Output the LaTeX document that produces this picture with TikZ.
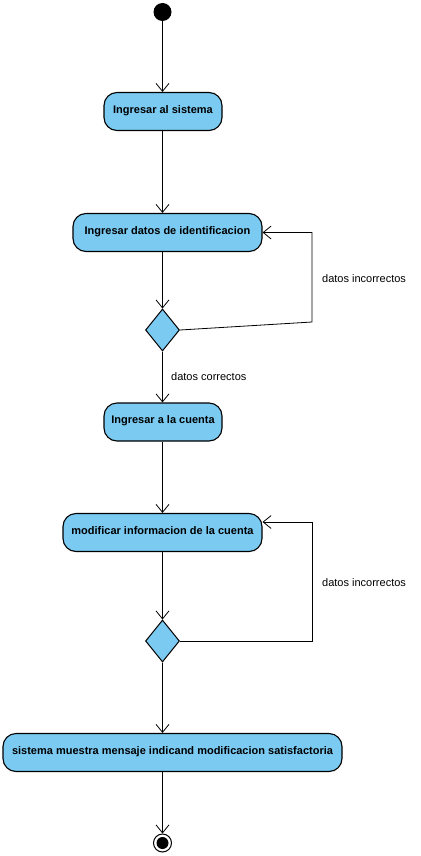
\documentclass[tikz,border=0pt]{standalone}
\usepackage{fontspec}
\setmainfont{Liberation Sans}
\usetikzlibrary{arrows.meta,shapes.geometric}
\definecolor{actfill}{RGB}{122,202,242}
\begin{document}
\begin{tikzpicture}[x=1pt,y=-1pt,
  act/.style={draw=black, line width=1.1pt, fill=actfill, rounded corners=13pt,
    font=\bfseries\fontsize{11}{13}\selectfont, inner sep=0pt, minimum height=38pt},
  dec/.style={draw=black, line width=1pt, fill=actfill, diamond, minimum width=34pt,
    minimum height=42pt, inner sep=0pt},
  flow/.style={draw=black, line width=0.8pt, -{Straight Barb[length=8pt,width=13pt,line width=0.8pt]}},
  lbl/.style={font=\fontsize{11}{13}\selectfont, inner sep=0pt, anchor=west}]
\useasboundingbox (0,0) rectangle (420,856);
\fill[white] (0,0) rectangle (420,856);

\node[circle, fill=black, minimum size=18pt, inner sep=0pt] (init) at (162.5,12) {};
\node[act, minimum width=118pt] (a1) at (163,111.5) {\raisebox{4pt}{Ingresar al sistema}};
\node[act, minimum width=189pt] (a2) at (167.5,232.5) {\raisebox{4pt}{Ingresar datos de identificacion}};
\node[dec] (d1) at (162.5,330) {};
\node[act, minimum width=118pt] (a3) at (163,422) {\raisebox{4pt}{Ingresar a la cuenta}};
\node[act, minimum width=199pt] (a4) at (162.5,532.5) {\raisebox{4pt}{modificar informacion de la cuenta}};
\node[dec] (d2) at (162.5,641) {};
\node[act, minimum width=339pt] (a5) at (172.5,752.5) {\raisebox{4pt}{sistema muestra mensaje indicand modificacion satisfactoria}};
\node[circle, draw=black, line width=1pt, fill=white, minimum size=18pt, inner sep=0pt] (fin) at (162.5,843) {};
\node[circle, fill=black, minimum size=12pt, inner sep=0pt] (finin) at (fin.center) {};

\coordinate (c1) at (312,322);
\coordinate (c2) at (312,232.5);
\coordinate (c3) at (312,641);
\coordinate (c4) at (312,522);

\draw[flow] (init.south) -- (init.south |- a1.north);
\draw[flow] (init.south |- a1.south) -- (init.south |- a2.north);
\draw[flow] (init.south |- a2.south) -- (d1.north);
\draw[flow] (d1.south) -- (d1.south |- a3.north);
\draw[flow] (init.south |- a3.south) -- (init.south |- a4.north);
\draw[flow] (init.south |- a4.south) -- (d2.north);
\draw[flow] (d2.south) -- (d2.south |- a5.north);
\draw[flow] (d2.south |- a5.south) -- (fin.north);

\draw[flow] (d1.east) -- (c1) -- (c2) -- (a2.east);
\draw[flow] (d2.east) -- (c3) -- (c4) -- (a4.east |- c4);

\node[lbl] (l1) at (322,279) {datos incorrectos};
\node[lbl] (l2) at (171,377) {datos correctos};
\node[lbl] (l3) at (322,583) {datos incorrectos};
\end{tikzpicture}
\end{document}
